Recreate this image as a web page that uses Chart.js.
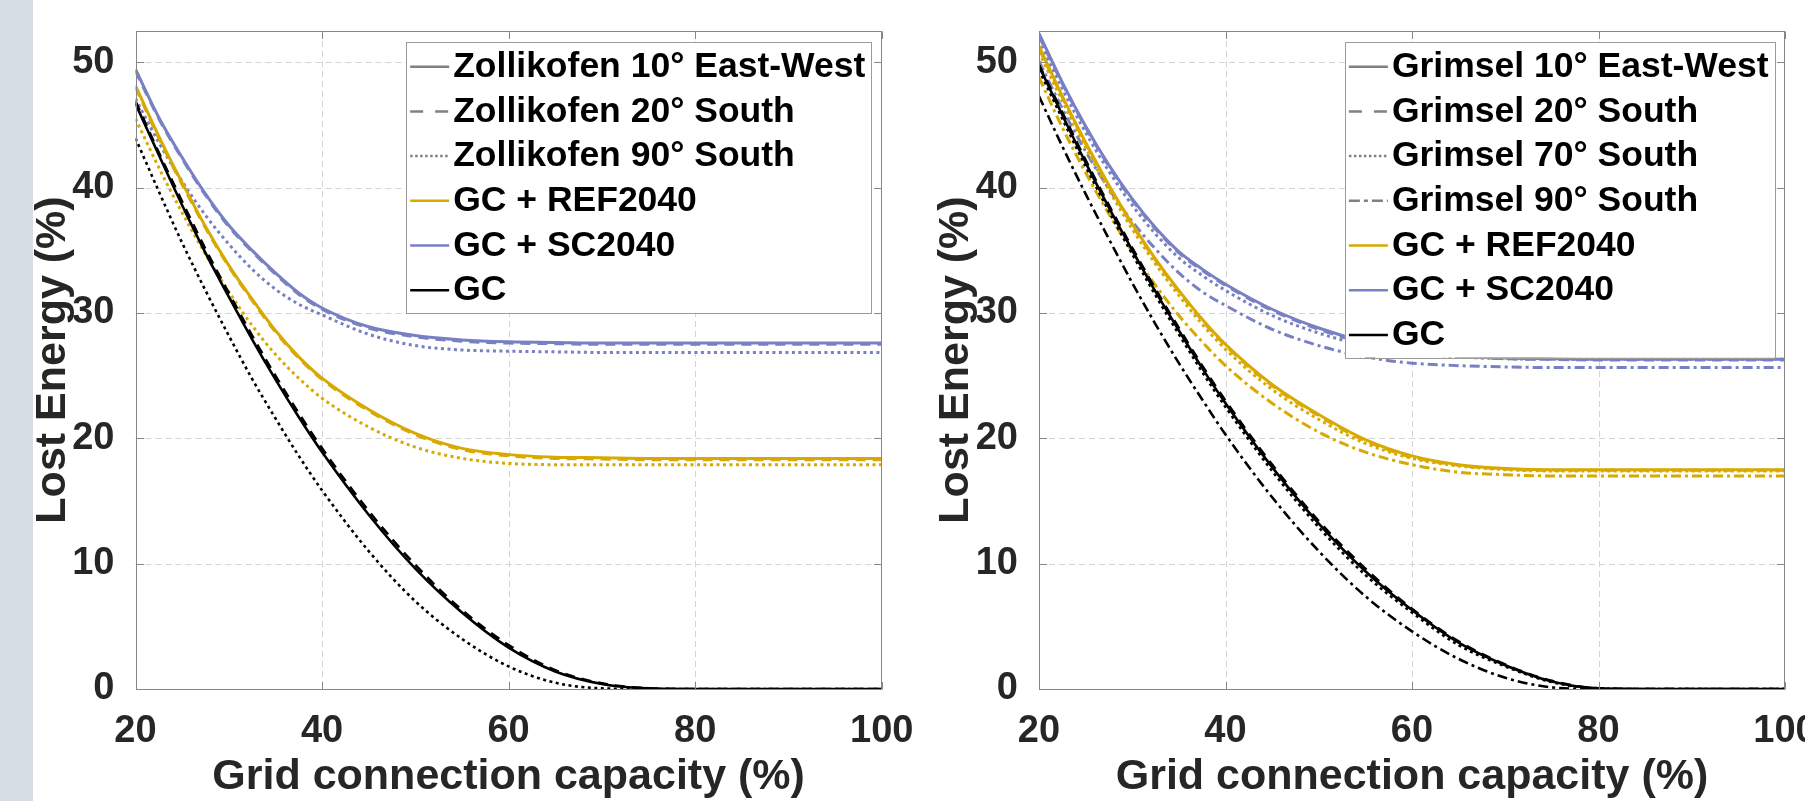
<!DOCTYPE html>
<html><head><meta charset="utf-8">
<script src="https://cdn.jsdelivr.net/npm/chart.js@4.4.1/dist/chart.umd.min.js"></script>
<style>
html,body{margin:0;padding:0;width:1805px;height:801px;overflow:hidden;background:#fff;}
#band{position:absolute;left:0;top:0;width:33px;height:801px;background:#d7dde5;}
#w1{position:absolute;left:0;top:0;width:960px;height:801px;}
#w2{position:absolute;left:905px;top:0;width:955px;height:801px;}
</style></head><body>
<div id="band"></div>
<div id="w1"><canvas id="c1" width="960" height="801"></canvas></div>
<div id="w2"><canvas id="c2" width="955" height="801"></canvas></div>
<script>
// ---------- data ----------
const xCap   = [20,22.5,25,27.5,30,32.5,35,37.5,40,45,50,55,60,65,70,75,80,85,90,95,100];
const xTicks = [20,40,60,80,100];
const yTicks = [0,10,20,30,40,50];
const xTitle = 'Grid connection capacity (%)';
const yTitle = 'Lost Energy (%)';

// Zollikofen (left panel)
const zolLabels = ['Zollikofen 10° East-West','Zollikofen 20° South','Zollikofen 90° South','GC + REF2040','GC + SC2040','GC'];
const zolGC_EW10  = [46.7,42.6,38.6,34.8,31.3,27.9,24.7,21.7,18.9,13.9,9.6,6.1,3.3,1.4,0.4,0.05,0,0,0,0,0];
const zolGC_S20   = [46.9,42.8,38.9,35.1,31.6,28.2,25.0,22.0,19.2,14.2,9.9,6.3,3.5,1.5,0.45,0.06,0,0,0,0,0];
const zolGC_S90   = [43.95,39.7,35.6,31.8,28.2,24.75,21.6,18.6,15.85,11.0,7.0,4.0,1.8,0.5,0.05,0,0,0,0,0,0];
const zolREF_EW10 = [48.15,44.1,40.4,36.9,33.8,31.1,28.6,26.5,24.8,22.3,20.4,19.2,18.7,18.5,18.45,18.4,18.4,18.4,18.4,18.4,18.4];
const zolREF_S20  = [48.0,43.95,40.25,36.8,33.7,31.0,28.5,26.4,24.7,22.2,20.3,19.1,18.6,18.4,18.35,18.3,18.3,18.3,18.3,18.3,18.3];
const zolREF_S90  = [45.5,41.6,38.0,34.7,31.7,29.0,26.7,24.8,23.2,20.9,19.3,18.4,18.0,17.9,17.9,17.9,17.9,17.9,17.9,17.9,17.9];
const zolSC_EW10  = [49.45,45.6,42.4,39.5,37.0,35.0,33.2,31.6,30.4,28.9,28.2,27.85,27.7,27.65,27.6,27.6,27.6,27.6,27.6,27.6,27.6];
const zolSC_S20   = [49.3,45.5,42.3,39.4,36.9,34.9,33.1,31.5,30.3,28.8,28.1,27.75,27.6,27.55,27.5,27.5,27.5,27.5,27.5,27.5,27.5];
const zolSC_S90   = [47.1,43.6,40.5,37.8,35.5,33.5,31.9,30.7,29.85,28.3,27.4,27.05,26.95,26.9,26.85,26.85,26.85,26.85,26.85,26.85,26.85];

// Grimsel (right panel)
const grmLabels = ['Grimsel 10° East-West','Grimsel 20° South','Grimsel 70° South','Grimsel 90° South','GC + REF2040','GC + SC2040','GC'];
const grmGC_EW10  = [49.7,45.8,42.0,38.4,35.0,31.7,28.6,25.6,22.8,17.7,13.2,9.4,6.3,3.7,1.9,0.6,0.05,0,0,0,0];
const grmGC_S20   = [49.8,46.0,42.2,38.6,35.2,31.9,28.8,25.8,23.0,17.9,13.4,9.6,6.4,3.8,1.95,0.65,0.06,0,0,0,0];
const grmGC_S70   = [49.4,45.5,41.7,38.1,34.7,31.4,28.3,25.3,22.5,17.4,12.9,9.1,6.1,3.5,1.8,0.55,0.04,0,0,0,0];
const grmGC_S90   = [47.3,43.3,39.5,35.9,32.4,29.1,26.0,23.1,20.3,15.3,11.0,7.4,4.6,2.4,0.9,0.13,0,0,0,0,0];
const grmREF_EW10 = [51.3,47.3,43.6,40.2,37.1,34.3,31.8,29.5,27.5,24.3,21.9,19.9,18.6,17.9,17.6,17.5,17.5,17.5,17.5,17.5,17.5];
const grmREF_S20  = [51.1,47.2,43.5,40.1,37.0,34.2,31.7,29.4,27.4,24.2,21.8,19.8,18.5,17.85,17.55,17.45,17.45,17.45,17.45,17.45,17.45];
const grmREF_S70  = [50.8,46.9,43.2,39.8,36.7,33.9,31.4,29.1,27.1,23.9,21.5,19.6,18.4,17.8,17.5,17.4,17.4,17.4,17.4,17.4,17.4];
const grmREF_S90  = [48.8,44.8,41.2,37.9,34.9,32.2,29.8,27.7,25.8,22.8,20.5,18.9,17.9,17.3,17.1,17.0,17.0,17.0,17.0,17.0,17.0];
const grmSC_EW10  = [52.3,48.4,44.9,41.8,39.1,36.8,34.9,33.5,32.3,30.3,28.8,27.7,27.0,26.6,26.4,26.35,26.3,26.3,26.3,26.3,26.3];
const grmSC_S20   = [52.1,48.3,44.8,41.7,39.0,36.7,34.8,33.4,32.2,30.2,28.7,27.6,26.95,26.55,26.35,26.3,26.25,26.25,26.25,26.25,26.25];
const grmSC_S70   = [51.8,47.9,44.4,41.3,38.6,36.3,34.4,33.0,31.8,29.8,28.4,27.4,26.8,26.5,26.35,26.3,26.3,26.3,26.3,26.3,26.3];
const grmSC_S90   = [50.1,46.3,42.9,39.9,37.3,35.1,33.2,31.7,30.6,28.7,27.4,26.5,26.0,25.8,25.7,25.65,25.65,25.65,25.65,25.65,25.65];

// ---------- styles ----------
const FONT = "'Liberation Sans', Arial, Helvetica, sans-serif";
const C_GC = '#000000', C_REF = '#D8A900', C_SC = '#7880C4', C_GRAY = '#808080';
const D_SOLID = [], D_DASH = [10,7], D_DOT = [3,3.5], D_DASHDOT = [10,4,3,4];
const L_DASH = [13,12], L_DOT = [2.5,2.5], L_DASHDOT = [11,4,4,4];

const pts = arr => xCap.map((x,i)=>({x:x, y:arr[i]}));
const ds = (arr, color, dash, w) => ({data:pts(arr), borderColor:color, borderDash:dash, borderWidth:w, fill:false, pointRadius:0});

const zolSets = [
  ds(zolGC_EW10, C_GC, D_SOLID, 2.6), ds(zolGC_S20, C_GC, D_DASH, 2.6), ds(zolGC_S90, C_GC, D_DOT, 2.6),
  ds(zolREF_EW10, C_REF, D_SOLID, 3), ds(zolREF_S20, C_REF, D_DASH, 3), ds(zolREF_S90, C_REF, D_DOT, 3),
  ds(zolSC_EW10, C_SC, D_SOLID, 3), ds(zolSC_S20, C_SC, D_DASH, 3), ds(zolSC_S90, C_SC, D_DOT, 3)
];
const grmSets = [
  ds(grmGC_EW10, C_GC, D_SOLID, 2.6), ds(grmGC_S20, C_GC, D_DASH, 2.6), ds(grmGC_S70, C_GC, D_DOT, 2.6), ds(grmGC_S90, C_GC, D_DASHDOT, 2.6),
  ds(grmREF_EW10, C_REF, D_SOLID, 3), ds(grmREF_S20, C_REF, D_DASH, 3), ds(grmREF_S70, C_REF, D_DOT, 3), ds(grmREF_S90, C_REF, D_DASHDOT, 3),
  ds(grmSC_EW10, C_SC, D_SOLID, 3), ds(grmSC_S20, C_SC, D_DASH, 3), ds(grmSC_S70, C_SC, D_DOT, 3), ds(grmSC_S90, C_SC, D_DASHDOT, 3)
];
const zolLegend = [
  {text:zolLabels[0], color:C_GRAY, dash:[]}, {text:zolLabels[1], color:C_GRAY, dash:L_DASH},
  {text:zolLabels[2], color:C_GRAY, dash:L_DOT}, {text:zolLabels[3], color:C_REF, dash:[]},
  {text:zolLabels[4], color:C_SC, dash:[]}, {text:zolLabels[5], color:C_GC, dash:[]}
];
const grmLegend = [
  {text:grmLabels[0], color:C_GRAY, dash:[]}, {text:grmLabels[1], color:C_GRAY, dash:L_DASH},
  {text:grmLabels[2], color:C_GRAY, dash:L_DOT}, {text:grmLabels[3], color:C_GRAY, dash:L_DASHDOT},
  {text:grmLabels[4], color:C_REF, dash:[]}, {text:grmLabels[5], color:C_SC, dash:[]}, {text:grmLabels[6], color:C_GC, dash:[]}
];

// ---------- plugins ----------
const frame = {
  id:'frame',
  beforeDatasetsDraw(chart){
    const {ctx, chartArea:a, scales:{x, y}} = chart;
    ctx.save();
    ctx.strokeStyle = '#d4d4d4'; ctx.lineWidth = 1; ctx.setLineDash([6,4]);
    x.ticks.forEach(t=>{
      const px = Math.round(x.getPixelForValue(t.value)) + 0.5;
      if (px > a.left + 2 && px < a.right - 2){ ctx.beginPath(); ctx.moveTo(px, a.top); ctx.lineTo(px, a.bottom); ctx.stroke(); }
    });
    y.ticks.forEach(t=>{
      const py = Math.round(y.getPixelForValue(t.value)) + 0.5;
      if (py > a.top + 2 && py < a.bottom - 2){ ctx.beginPath(); ctx.moveTo(a.left, py); ctx.lineTo(a.right, py); ctx.stroke(); }
    });
    ctx.restore();
  },
  afterDatasetsDraw(chart){
    const {ctx, chartArea:a, scales:{x, y}} = chart;
    ctx.save();
    ctx.strokeStyle = '#868686'; ctx.lineWidth = 1; ctx.setLineDash([]);
    const L = Math.round(a.left)+0.5, R = Math.round(a.right)-0.5, T = Math.round(a.top)+0.5, B = Math.round(a.bottom)+0.5;
    ctx.strokeRect(L, T, R-L, B-T);
    const tl = 7.5;
    ctx.beginPath();
    x.ticks.forEach(t=>{
      const px = Math.round(x.getPixelForValue(t.value)) + 0.5;
      ctx.moveTo(px, B); ctx.lineTo(px, B - tl); ctx.moveTo(px, T); ctx.lineTo(px, T + tl);
    });
    y.ticks.forEach(t=>{
      const py = Math.round(y.getPixelForValue(t.value)) + 0.5;
      ctx.moveTo(L, py); ctx.lineTo(L + tl, py); ctx.moveTo(R, py); ctx.lineTo(R - tl, py);
    });
    ctx.stroke();
    ctx.restore();
  }
};
const boxLegend = {
  id:'boxLegend',
  afterDraw(chart, args, opts){
    const items = opts.items || [];
    const {ctx, chartArea:a} = chart;
    ctx.save();
    ctx.font = 'bold 35.5px ' + FONT;
    const tw = Math.max.apply(null, items.map(it => ctx.measureText(it.text).width));
    const w = 4 + 39 + 4 + tw + 6;
    const rowH = 44.7;
    const h = 25 + (items.length - 1) * rowH + 22.5;
    const right = a.right - 10.5, top = a.top + 10.7, left = right - w;
    ctx.fillStyle = '#ffffff'; ctx.fillRect(left, top, w, h);
    ctx.strokeStyle = '#9c9c9c'; ctx.lineWidth = 1;
    ctx.strokeRect(Math.round(left)+0.5, Math.round(top)+0.5, Math.round(w), Math.round(h));
    items.forEach((it, i) => {
      const cy = top + 25 + i * rowH;
      ctx.strokeStyle = it.color; ctx.lineWidth = 2.5; ctx.setLineDash(it.dash);
      ctx.beginPath(); ctx.moveTo(left + 4, cy); ctx.lineTo(left + 43, cy); ctx.stroke();
      ctx.setLineDash([]);
      ctx.fillStyle = '#000000'; ctx.textBaseline = 'middle'; ctx.textAlign = 'left';
      ctx.fillText(it.text, left + 47, cy + 0.5);
    });
    ctx.restore();
  }
};

function makeChart(id, datasets, legendItems, yAxisW, yTitlePad, padRight){
  return new Chart(document.getElementById(id), {
    type:'line',
    data:{datasets:datasets},
    options:{
      responsive:false, animation:false, devicePixelRatio:1,
      layout:{autoPadding:false, padding:{left:0, right:padRight, top:31, bottom:0}},
      elements:{point:{radius:0}, line:{cubicInterpolationMode:'monotone', borderCapStyle:'butt', borderJoinStyle:'round'}},
      plugins:{legend:{display:false}, tooltip:{enabled:false}, boxLegend:{items:legendItems}},
      scales:{
        x:{
          type:'linear', min:20, max:100,
          afterBuildTicks: s => { s.ticks = xTicks.map(v => ({value:v})); },
          afterFit: s => { s.height = 112; s.paddingLeft = 0; s.paddingRight = 0; s.paddingTop = 0; s.paddingBottom = 0; },
          grid:{display:false}, border:{display:false},
          ticks:{padding:12, color:'#262626', maxRotation:0, autoSkip:false, font:{family:FONT, size:38, weight:'bold'}},
          title:{display:true, text:xTitle, color:'#262626', font:{family:FONT, size:43, weight:'bold', lineHeight:1}, padding:{top:0, bottom:2}}
        },
        y:{
          type:'linear', min:0, max:52.5,
          afterBuildTicks: s => { s.ticks = yTicks.map(v => ({value:v})); },
          afterFit: s => { s.width = yAxisW; s.paddingLeft = 0; s.paddingRight = 0; s.paddingTop = 0; s.paddingBottom = 0; },
          grid:{display:false}, border:{display:false},
          ticks:{padding:13, color:'#262626', font:{family:FONT, size:38, weight:'bold'}},
          title:{display:true, text:yTitle, color:'#262626', font:{family:FONT, size:43, weight:'bold', lineHeight:1}, padding:{top:yTitlePad, bottom:0}}
        }
      }
    },
    plugins:[frame, boxLegend]
  });
}

makeChart('c1', zolSets, zolLegend, 135.5, 31.5, 78.3);
makeChart('c2', grmSets, grmLegend, 134, 30, 75);
</script>
</body></html>
